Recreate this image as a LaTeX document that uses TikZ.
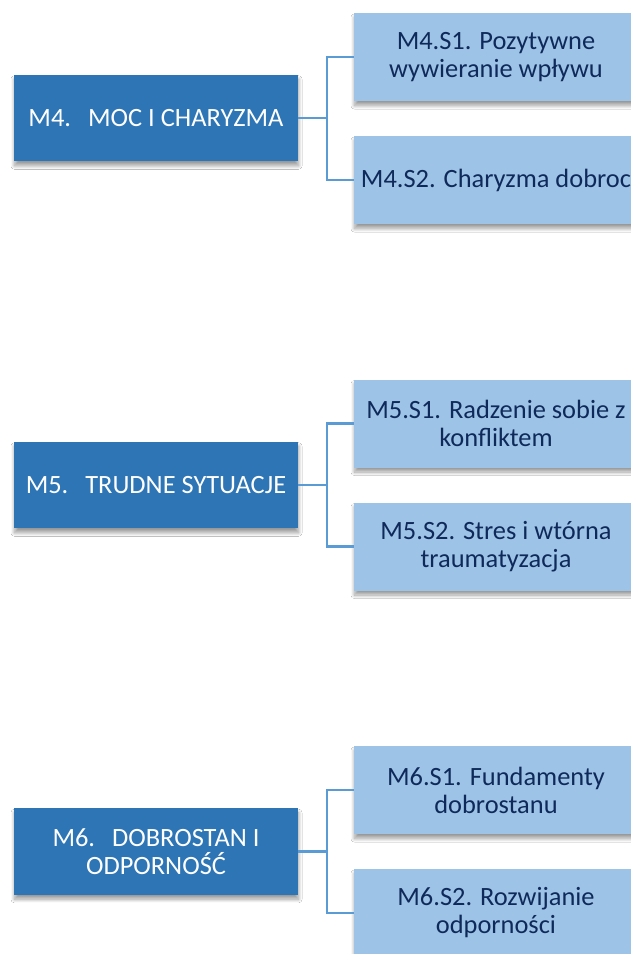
\documentclass[tikz,border=0pt]{standalone}
\usepackage{fontspec}
\setmainfont{Carlito}
\usetikzlibrary{shadows.blur}
\definecolor{mainblue}{HTML}{2E75B6}
\definecolor{subblue}{HTML}{9DC3E6}
\definecolor{navytext}{HTML}{0F2A5A}
\definecolor{linkblue}{HTML}{5B9BD5}
\newcommand{\gapM}{\hspace{17pt}}
\begin{document}
\begin{tikzpicture}[x=1pt,y=-1pt,
  boxshadow/.style={blur shadow={shadow xshift=0.5pt, shadow yshift=-4.5pt, shadow blur radius=3.5pt, shadow blur steps=20, shadow opacity=40}},
  mainbox/.style={boxshadow, fill=mainblue, text=white, minimum width=284pt, minimum height=86.5pt,
    align=center, inner sep=0pt, font=\fontsize{26.4}{28}\selectfont},
  subbox/.style={boxshadow, fill=subblue, text=navytext, minimum width=284pt, minimum height=88pt,
    align=center, inner sep=0pt, font=\fontsize{26.4}{28}\selectfont},
  link/.style={draw=linkblue, line width=2.4pt}]
\useasboundingbox (0,0) rectangle (631,954);
\clip (0,0) rectangle (631,954);
\fill[white] (0,0) rectangle (631,954);

% group M4
\node[mainbox] (m4) at (156,118) {M4.\gapM MOC I CHARYZMA};
\node[subbox] (s41) at (496,57) {M4.S1. Pozytywne\\wywieranie wpływu};
\node[subbox] (s42) at (496,180) {M4.S2. Charyzma dobroc};
\coordinate (j4) at (327,118);
\draw[link] (m4.east) -- (j4);
\draw[link] (j4) |- (s41.west);
\draw[link] (j4) |- (s42.west);

% group M5
\node[mainbox] (m5) at (156,485) {M5.\gapM TRUDNE SYTUACJE};
\node[subbox] (s51) at (496,423.5) {M5.S1. Radzenie sobie z\\konfliktem};
\node[subbox] (s52) at (496,546.5) {M5.S2. Stres i wtórna\\traumatyzacja};
\coordinate (j5) at (327,485);
\draw[link] (m5.east) -- (j5);
\draw[link] (j5) |- (s51.west);
\draw[link] (j5) |- (s52.west);

% group M6
\node[mainbox] (m6) at (156,851.5) {M6.\gapM DOBROSTAN I\\ODPORNOŚĆ};
\node[subbox] (s61) at (496,790) {M6.S1. Fundamenty\\dobrostanu};
\node[subbox] (s62) at (496,913) {M6.S2. Rozwijanie\\odporności};
\coordinate (j6) at (327,851.5);
\draw[link] (m6.east) -- (j6);
\draw[link] (j6) |- (s61.west);
\draw[link] (j6) |- (s62.west);
\end{tikzpicture}
\end{document}
